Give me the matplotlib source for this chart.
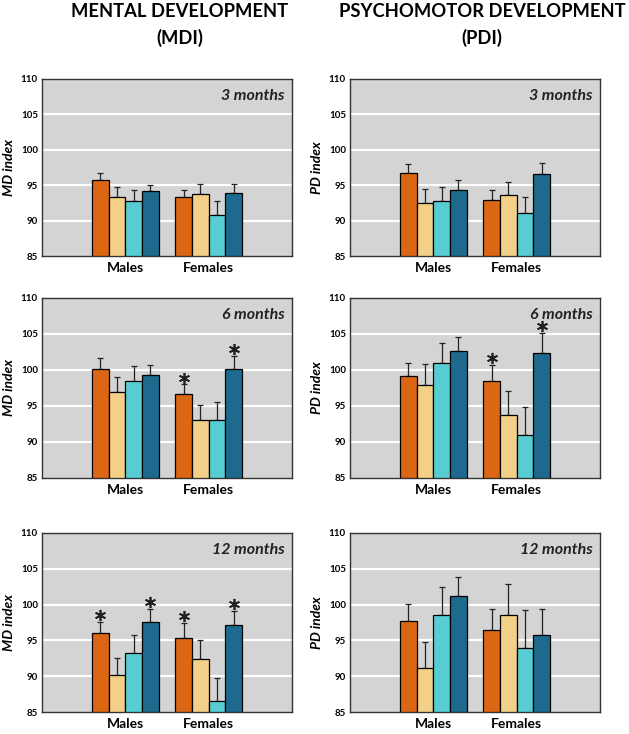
import matplotlib
matplotlib.use('Agg')
import matplotlib.pyplot as plt
import numpy as np

plt.rcParams['font.family'] = ['Lato', 'DejaVu Sans']

# groups and bar colours
groups = ['Males', 'Females']
colors = ['#DB6614', '#F3D088', '#57CDD3', '#1D6A8E']

# means (males x4, females x4) and upper error ends
mdi_3 = [95.8, 93.4, 92.8, 94.2, 93.3, 93.7, 90.8, 93.9]
mdi_3_err = [96.7, 94.7, 94.3, 95.0, 94.3, 95.2, 92.7, 95.2]
mdi_6 = [100.1, 96.9, 98.5, 99.3, 96.6, 93.1, 93.1, 100.2]
mdi_6_err = [101.6, 99.0, 100.6, 100.7, 98.0, 95.2, 95.5, 102.0]
mdi_12 = [96.0, 90.1, 93.2, 97.6, 95.4, 92.4, 86.6, 97.1]
mdi_12_err = [97.6, 92.5, 95.7, 99.4, 97.4, 95.1, 89.7, 99.1]

pdi_3 = [96.7, 92.5, 92.7, 94.3, 92.9, 93.6, 91.1, 96.6]
pdi_3_err = [98.0, 94.5, 94.7, 95.7, 94.3, 95.5, 93.4, 98.2]
pdi_6 = [99.1, 97.9, 101.0, 102.7, 98.5, 93.8, 91.0, 102.4]
pdi_6_err = [101.0, 100.9, 103.7, 104.6, 100.7, 97.1, 94.8, 105.2]
pdi_12 = [97.7, 91.2, 98.6, 101.2, 96.4, 98.5, 94.0, 95.8]
pdi_12_err = [100.1, 94.8, 102.4, 103.9, 99.4, 102.9, 99.2, 99.4]

# significance stars (index of bar)
mdi_3_star = []
mdi_6_star = [4, 7]
mdi_12_star = [0, 3, 4, 7]
pdi_3_star = []
pdi_6_star = [4, 7]
pdi_12_star = []

ages = ['3 months', '6 months', '12 months']
ylim = (85, 110)
yticks = [85, 90, 95, 100, 105, 110]

panels = [
    [(mdi_3, mdi_3_err, mdi_3_star), (pdi_3, pdi_3_err, pdi_3_star)],
    [(mdi_6, mdi_6_err, mdi_6_star), (pdi_6, pdi_6_err, pdi_6_star)],
    [(mdi_12, mdi_12_err, mdi_12_star), (pdi_12, pdi_12_err, pdi_12_star)],
]
ylabels = ['MD index', 'PD index']

W, H = 629, 734
fig = plt.figure(figsize=(W / 100, H / 100), dpi=100)

# axes boxes in pixels: (left, right) and (top, bottom)
col_x = [(42, 292), (350, 600)]
row_y = [(79, 256), (298, 478), (533, 712)]

xpos = np.array([3.5, 4.5, 5.5, 6.5, 8.5, 9.5, 10.5, 11.5])

for r in range(3):
    for c in range(2):
        vals, errs, stars = panels[r][c]
        x0, x1 = col_x[c]
        y0, y1 = row_y[r]
        ax = fig.add_axes([x0 / W, 1 - y1 / H, (x1 - x0) / W, (y1 - y0) / H])
        ax.set_facecolor('#D4D4D4')
        ax.set_xlim(0, 15)
        ax.set_ylim(*ylim)
        for g in [90, 95, 100, 105]:
            ax.axhline(g, color='white', lw=1.6, zorder=1)
        vals = np.array(vals)
        up = np.array(errs) - vals
        ax.bar(xpos, vals - ylim[0], bottom=ylim[0], width=1.0,
               color=colors * 2, edgecolor='black', linewidth=0.9, zorder=3)
        ax.errorbar(xpos, vals, yerr=[np.zeros_like(up), up], fmt='none',
                    ecolor='#222222', elinewidth=0.9, capsize=2.5,
                    capthick=0.9, zorder=2)
        if stars:
            sx = xpos[stars]
            sy = np.array(errs)[stars] + 0.95
            ax.plot(sx, sy, linestyle='none', marker=(6, 2, 0), ms=8,
                    mew=1.25, color='#222222', zorder=4)
        ax.set_yticks(yticks)
        ax.set_yticklabels([str(t) for t in yticks], fontsize=7,
                           fontweight='bold')
        ax.set_xticks([5, 10])
        ax.set_xticklabels(groups, fontsize=10, fontweight='bold')
        ax.tick_params(length=0, pad=3)
        ax.tick_params(axis='x', pad=4)
        for s in ax.spines.values():
            s.set_color('#333333')
            s.set_linewidth(1.0)
        ax.set_ylabel(ylabels[c], fontsize=10, fontweight='bold',
                      style='italic', labelpad=4)
        ax.text(0.97, 0.905, ages[r], transform=ax.transAxes, ha='right',
                va='center', fontsize=11.5, fontweight='bold', style='italic',
                color='#222222', zorder=5)

fig.text(180 / W, 1 - 25 / H, 'MENTAL DEVELOPMENT\n(MDI)', ha='center',
         va='center', fontsize=13.2, fontweight='bold', linespacing=1.6)
fig.text(482 / W, 1 - 25 / H, 'PSYCHOMOTOR DEVELOPMENT\n(PDI)', ha='center',
         va='center', fontsize=13.2, fontweight='bold', linespacing=1.6)

fig.savefig('out.png', dpi=100)
